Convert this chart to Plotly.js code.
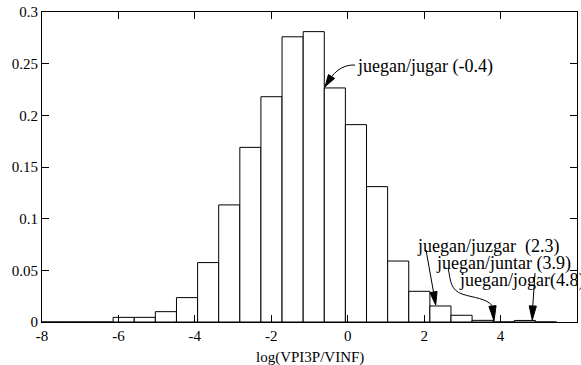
<!DOCTYPE html>
<html>
<head>
<meta charset="utf-8">
<script src="https://cdn.plot.ly/plotly-3.0.1.min.js"></script>
<style>html,body{margin:0;padding:0;background:#fff;}#chart{width:581px;height:365px;}</style>
</head>
<body>
<div id="chart"></div>
<script>
// Histogram bin centres of log(VPI3P/VINF)
const binCenters = [-8.074, -7.521, -6.968, -6.415, -5.863, -5.310, -4.758, -4.205,
  -3.652, -3.100, -2.547, -1.995, -1.442, -0.889, -0.337, 0.216, 0.768, 1.321,
  1.874, 2.426, 2.979, 3.531, 4.084, 4.636, 5.189];
// Relative frequency of each bin
const binFreq = [0, 0, 0, 0, 0.0045, 0.0045, 0.010, 0.0236,
  0.0575, 0.1133, 0.169, 0.218, 0.276, 0.281, 0.2265, 0.191, 0.131, 0.059,
  0.0297, 0.0155, 0.0065, 0.0016, 0, 0.0015, 0];
const xTicks = [-8, -6, -4, -2, 0, 2, 4, 6];
const yTicks = [0, 0.05, 0.1, 0.15, 0.2, 0.25, 0.3];
const xTitle = "log(VPI3P/VINF)";

// Labels with their arrows (data coordinates)
const labelTexts = ["juegan/jugar (-0.4)", "juegan/juzgar\u00a0\u00a0(2.3)", "juegan/juntar (3.9)", "juegan/jogar(4.8)"];
const labelX = [0.217, 1.787, 2.271, 2.873];
const labelY = [0.2477, 0.0735, 0.0571, 0.0406];
const arrowPaths = [
  {start: [0.191, 0.2487], curves: [[[-0.150, 0.2492], [-0.385, 0.2419], [-0.594, 0.2277]]]},
  {start: [2.049, 0.0697], curves: [], end: [2.245, 0.0290]},
  {start: [2.632, 0.0520], curves: [[[2.690, 0.0387], [2.703, 0.0310], [2.991, 0.0271]],
                                   [[3.305, 0.0232], [3.619, 0.0232], [3.789, 0.0155]]]},
  {start: [4.901, 0.0474], curves: [], end: [4.843, 0.0155]}
];
const arrowTips = [[-0.594, 0.2277], [2.302, 0.0165], [3.828, 0.0010], [4.830, 0.0019]];
const arrowBases = [[-0.424, 0.2376], [2.245, 0.0290], [3.789, 0.0155], [4.843, 0.0155]];

const XR = [-8, 6], YR = [0, 0.3];
const W = 581, H = 365;
const MRG = {l: 42, r: 4, t: 12, b: 43, pad: 0};
const pw = W - MRG.l - MRG.r, ph = H - MRG.t - MRG.b;
const sx = pw / (XR[1] - XR[0]), sy = ph / (YR[1] - YR[0]);
const SERIF = 'Liberation Serif, Times New Roman, serif';

function P(p) { return p[0] + ',' + p[1]; }

const shapes = [];
arrowPaths.forEach(a => {
  let d = 'M' + P(a.start);
  a.curves.forEach(c => { d += ' C' + P(c[0]) + ' ' + P(c[1]) + ' ' + P(c[2]); });
  if (a.end) d += ' L' + P(a.end);
  shapes.push({type: 'path', xref: 'x', yref: 'y', path: d, line: {color: 'black', width: 1}});
});
arrowTips.forEach((t, i) => {
  const b = arrowBases[i];
  const dx = (t[0] - b[0]) * sx, dy = -(t[1] - b[1]) * sy;
  const L = Math.hypot(dx, dy);
  const nx = -dy / L, ny = dx / L, hw = 3.6;
  const c1 = [b[0] + nx * hw / sx, b[1] - ny * hw / sy];
  const c2 = [b[0] - nx * hw / sx, b[1] + ny * hw / sy];
  shapes.push({type: 'path', xref: 'x', yref: 'y',
    path: 'M' + P(t) + ' L' + P(c1) + ' L' + P(c2) + ' Z',
    fillcolor: 'black', line: {color: 'black', width: 1}});
});

const annotations = labelTexts.map((t, i) => ({
  x: labelX[i], y: labelY[i], xref: 'x', yref: 'y', text: t, showarrow: false,
  xanchor: 'left', yanchor: 'middle', borderpad: 0,
  font: {family: SERIF, size: 18, color: 'black'}
}));
// x-axis title
annotations.push({x: 0.5, y: 0, xref: 'paper', yref: 'paper', text: xTitle, showarrow: false,
  xanchor: 'center', yanchor: 'middle', yshift: -35, borderpad: 0,
  font: {family: SERIF, size: 15, color: 'black'}});

const trace = {
  type: 'bar', x: binCenters, y: binFreq,
  marker: {color: 'white', line: {color: 'black', width: 1}},
  hoverinfo: 'skip'
};

const axisCommon = {
  showline: true, linecolor: 'black', linewidth: 1, mirror: 'ticks',
  ticks: 'inside', ticklen: 7, tickwidth: 1, tickcolor: 'black',
  showgrid: false, zeroline: false,
  tickfont: {family: SERIF, size: 15, color: 'black'}
};

const layout = {
  width: W, height: H, margin: MRG,
  paper_bgcolor: 'white', plot_bgcolor: 'white',
  showlegend: false, bargap: 0,
  font: {family: SERIF, color: 'black'},
  xaxis: Object.assign({}, axisCommon, {range: XR, tickvals: xTicks, ticktext: xTicks.map(String)}),
  yaxis: Object.assign({}, axisCommon, {range: YR, tickvals: yTicks, ticktext: yTicks.map(String)}),
  shapes: shapes, annotations: annotations
};

Plotly.newPlot('chart', [trace], layout, {staticPlot: true, displayModeBar: false});
</script>
</body>
</html>
